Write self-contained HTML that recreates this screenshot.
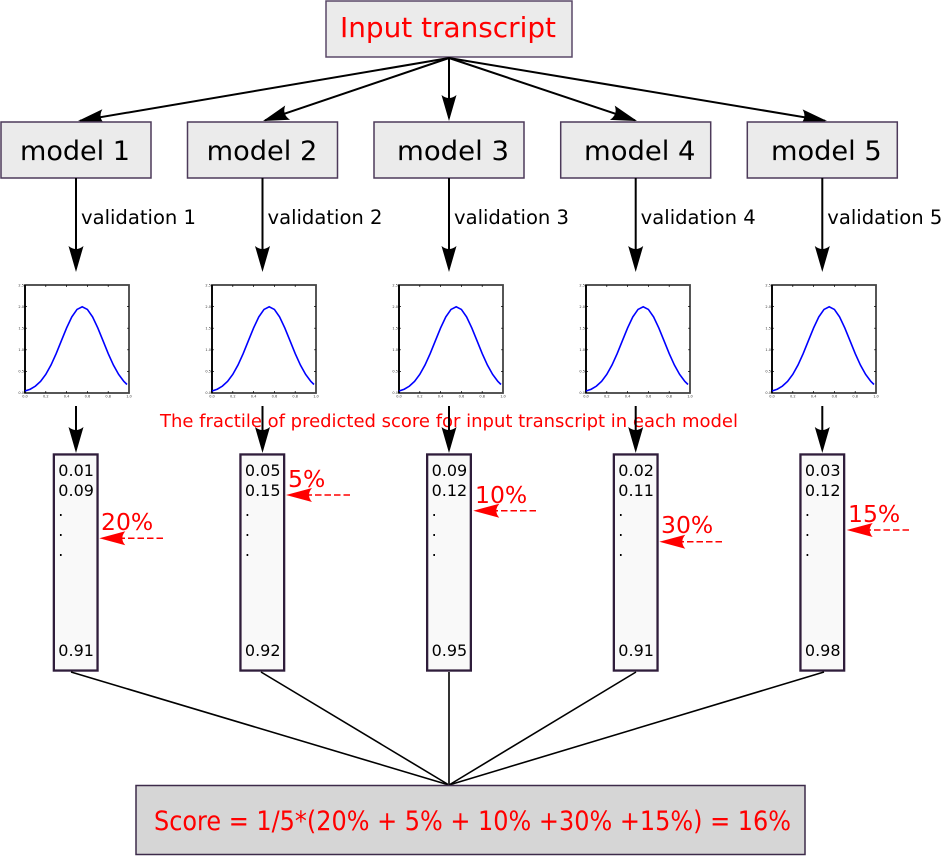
<!DOCTYPE html>
<html>
<head>
<meta charset="utf-8">
<style>
html,body{margin:0;padding:0;background:#ffffff;}
svg{display:block;}
</style>
</head>
<body>
<svg width="943" height="857" viewBox="0 0 943 857" xmlns="http://www.w3.org/2000/svg" font-family="'DejaVu Sans','Liberation Sans',sans-serif">
<rect x="0" y="0" width="943" height="857" fill="#ffffff"/>

<!-- Input transcript -->
<rect x="326" y="1" width="246" height="56" fill="#ebebeb" stroke="#5a4868" stroke-width="1.5"/>
<text x="340" y="37" font-size="28" fill="#ff0000" textLength="216" lengthAdjust="spacingAndGlyphs">Input transcript</text>

<!-- top connectors -->
<g stroke="#000" stroke-width="2" fill="none">
<line x1="449" y1="58" x2="80" y2="120.7"/>
<line x1="449" y1="58" x2="265" y2="120.3"/>
<line x1="449" y1="58" x2="449" y2="118"/>
<line x1="449" y1="58" x2="635" y2="120.3"/>
<line x1="449" y1="58" x2="825" y2="120.7"/>
</g>
<g fill="#000">
<path d="M0,0 L-26,-7.5 Q-20,0 -26,7.5 Z" transform="translate(78,121) rotate(170.36)"/>
<path d="M0,0 L-26,-7.5 Q-20,0 -26,7.5 Z" transform="translate(263,121) rotate(161.29)"/>
<path d="M0,0 L-26,-7.5 Q-20,0 -26,7.5 Z" transform="translate(449,121) rotate(90)"/>
<path d="M0,0 L-26,-7.5 Q-20,0 -26,7.5 Z" transform="translate(637,121) rotate(18.52)"/>
<path d="M0,0 L-26,-7.5 Q-20,0 -26,7.5 Z" transform="translate(827,121) rotate(9.46)"/>
</g>

<!-- model boxes -->
<g fill="#ebebeb" stroke="#4d3a5a" stroke-width="1.5">
<rect x="1" y="122" width="150" height="56"/>
<rect x="187.5" y="122" width="150" height="56"/>
<rect x="374" y="122" width="150" height="56"/>
<rect x="560.7" y="122" width="150" height="56"/>
<rect x="747.3" y="122" width="150" height="56"/>
</g>
<g font-size="26.5" fill="#000">
<text x="20" y="160" textLength="110" lengthAdjust="spacingAndGlyphs">model 1</text>
<text x="206.7" y="160" textLength="110.6" lengthAdjust="spacingAndGlyphs">model 2</text>
<text x="397" y="160" textLength="112" lengthAdjust="spacingAndGlyphs">model 3</text>
<text x="584" y="160" textLength="111.5" lengthAdjust="spacingAndGlyphs">model 4</text>
<text x="771" y="160" textLength="110.7" lengthAdjust="spacingAndGlyphs">model 5</text>
</g>

<!-- validation arrows -->
<g stroke="#000" stroke-width="2">
<line x1="76" y1="178" x2="76" y2="262"/>
<line x1="262.5" y1="178" x2="262.5" y2="262"/>
<line x1="449" y1="178" x2="449" y2="262"/>
<line x1="635.7" y1="178" x2="635.7" y2="262"/>
<line x1="822.3" y1="178" x2="822.3" y2="262"/>
</g>
<g fill="#000">
<path d="M0,0 L-26,-7.5 Q-20,0 -26,7.5 Z" transform="translate(76,272) rotate(90)"/>
<path d="M0,0 L-26,-7.5 Q-20,0 -26,7.5 Z" transform="translate(262.5,272) rotate(90)"/>
<path d="M0,0 L-26,-7.5 Q-20,0 -26,7.5 Z" transform="translate(449,272) rotate(90)"/>
<path d="M0,0 L-26,-7.5 Q-20,0 -26,7.5 Z" transform="translate(635.7,272) rotate(90)"/>
<path d="M0,0 L-26,-7.5 Q-20,0 -26,7.5 Z" transform="translate(822.3,272) rotate(90)"/>
</g>
<g font-size="19.5" fill="#000">
<text x="81" y="224" textLength="115" lengthAdjust="spacingAndGlyphs">validation 1</text>
<text x="267.5" y="224" textLength="115" lengthAdjust="spacingAndGlyphs">validation 2</text>
<text x="454" y="224" textLength="115" lengthAdjust="spacingAndGlyphs">validation 3</text>
<text x="640.7" y="224" textLength="115" lengthAdjust="spacingAndGlyphs">validation 4</text>
<text x="827.3" y="224" textLength="115" lengthAdjust="spacingAndGlyphs">validation 5</text>
</g>

<!-- plots -->
<g transform="translate(25,285)">
<rect x="0" y="0" width="104" height="108" fill="#fff" stroke="#444" stroke-width="1.8"/>
<line x1="0" y1="0" x2="0" y2="108" stroke="#000" stroke-width="1.8"/>
<g stroke="#000" stroke-width="0.7">
<path d="M20.8,108v-2M41.6,108v-2M62.4,108v-2M83.2,108v-2M20.8,0v2M41.6,0v2M62.4,0v2M83.2,0v2M0,86.4h2M0,64.8h2M0,43.2h2M0,21.6h2M104,86.4h-2M104,64.8h-2M104,43.2h-2M104,21.6h-2"/>
</g>
<polyline fill="none" stroke="#0000ff" stroke-width="1.6" points="0,106.03 5.2,104.21 10.4,101.14 15.6,96.34 20.8,89.36 26,80.02 31.2,68.55 36.4,55.73 41.6,42.95 46.8,31.94 52,24.47 57.2,21.82 62.4,24.47 67.6,31.94 72.8,42.95 78,55.73 83.2,68.55 88.4,80.02 93.6,89.36 98.8,96.34 102,99.5"/>
<g font-size="3.5" fill="#333" text-anchor="end">
<text x="-1" y="109">0.0</text><text x="-1" y="87.6">0.5</text><text x="-1" y="66">1.0</text><text x="-1" y="44.4">1.5</text><text x="-1" y="22.8">2.0</text><text x="-1" y="1.5">2.5</text>
</g>
<g font-size="3.5" fill="#333" text-anchor="middle">
<text x="0" y="112.5">0.0</text><text x="20.8" y="112.5">0.2</text><text x="41.6" y="112.5">0.4</text><text x="62.4" y="112.5">0.6</text><text x="83.2" y="112.5">0.8</text><text x="104" y="112.5">1.0</text>
</g>
</g>

<g transform="translate(212,285)">
<rect x="0" y="0" width="104" height="108" fill="#fff" stroke="#444" stroke-width="1.8"/>
<line x1="0" y1="0" x2="0" y2="108" stroke="#000" stroke-width="1.8"/>
<g stroke="#000" stroke-width="0.7">
<path d="M20.8,108v-2M41.6,108v-2M62.4,108v-2M83.2,108v-2M20.8,0v2M41.6,0v2M62.4,0v2M83.2,0v2M0,86.4h2M0,64.8h2M0,43.2h2M0,21.6h2M104,86.4h-2M104,64.8h-2M104,43.2h-2M104,21.6h-2"/>
</g>
<polyline fill="none" stroke="#0000ff" stroke-width="1.6" points="0,106.03 5.2,104.21 10.4,101.14 15.6,96.34 20.8,89.36 26,80.02 31.2,68.55 36.4,55.73 41.6,42.95 46.8,31.94 52,24.47 57.2,21.82 62.4,24.47 67.6,31.94 72.8,42.95 78,55.73 83.2,68.55 88.4,80.02 93.6,89.36 98.8,96.34 102,99.5"/>
<g font-size="3.5" fill="#333" text-anchor="end">
<text x="-1" y="109">0.0</text><text x="-1" y="87.6">0.5</text><text x="-1" y="66">1.0</text><text x="-1" y="44.4">1.5</text><text x="-1" y="22.8">2.0</text><text x="-1" y="1.5">2.5</text>
</g>
<g font-size="3.5" fill="#333" text-anchor="middle">
<text x="0" y="112.5">0.0</text><text x="20.8" y="112.5">0.2</text><text x="41.6" y="112.5">0.4</text><text x="62.4" y="112.5">0.6</text><text x="83.2" y="112.5">0.8</text><text x="104" y="112.5">1.0</text>
</g>
</g>

<g transform="translate(399,285)">
<rect x="0" y="0" width="104" height="108" fill="#fff" stroke="#444" stroke-width="1.8"/>
<line x1="0" y1="0" x2="0" y2="108" stroke="#000" stroke-width="1.8"/>
<g stroke="#000" stroke-width="0.7">
<path d="M20.8,108v-2M41.6,108v-2M62.4,108v-2M83.2,108v-2M20.8,0v2M41.6,0v2M62.4,0v2M83.2,0v2M0,86.4h2M0,64.8h2M0,43.2h2M0,21.6h2M104,86.4h-2M104,64.8h-2M104,43.2h-2M104,21.6h-2"/>
</g>
<polyline fill="none" stroke="#0000ff" stroke-width="1.6" points="0,106.03 5.2,104.21 10.4,101.14 15.6,96.34 20.8,89.36 26,80.02 31.2,68.55 36.4,55.73 41.6,42.95 46.8,31.94 52,24.47 57.2,21.82 62.4,24.47 67.6,31.94 72.8,42.95 78,55.73 83.2,68.55 88.4,80.02 93.6,89.36 98.8,96.34 102,99.5"/>
<g font-size="3.5" fill="#333" text-anchor="end">
<text x="-1" y="109">0.0</text><text x="-1" y="87.6">0.5</text><text x="-1" y="66">1.0</text><text x="-1" y="44.4">1.5</text><text x="-1" y="22.8">2.0</text><text x="-1" y="1.5">2.5</text>
</g>
<g font-size="3.5" fill="#333" text-anchor="middle">
<text x="0" y="112.5">0.0</text><text x="20.8" y="112.5">0.2</text><text x="41.6" y="112.5">0.4</text><text x="62.4" y="112.5">0.6</text><text x="83.2" y="112.5">0.8</text><text x="104" y="112.5">1.0</text>
</g>
</g>

<g transform="translate(586,285)">
<rect x="0" y="0" width="104" height="108" fill="#fff" stroke="#444" stroke-width="1.8"/>
<line x1="0" y1="0" x2="0" y2="108" stroke="#000" stroke-width="1.8"/>
<g stroke="#000" stroke-width="0.7">
<path d="M20.8,108v-2M41.6,108v-2M62.4,108v-2M83.2,108v-2M20.8,0v2M41.6,0v2M62.4,0v2M83.2,0v2M0,86.4h2M0,64.8h2M0,43.2h2M0,21.6h2M104,86.4h-2M104,64.8h-2M104,43.2h-2M104,21.6h-2"/>
</g>
<polyline fill="none" stroke="#0000ff" stroke-width="1.6" points="0,106.03 5.2,104.21 10.4,101.14 15.6,96.34 20.8,89.36 26,80.02 31.2,68.55 36.4,55.73 41.6,42.95 46.8,31.94 52,24.47 57.2,21.82 62.4,24.47 67.6,31.94 72.8,42.95 78,55.73 83.2,68.55 88.4,80.02 93.6,89.36 98.8,96.34 102,99.5"/>
<g font-size="3.5" fill="#333" text-anchor="end">
<text x="-1" y="109">0.0</text><text x="-1" y="87.6">0.5</text><text x="-1" y="66">1.0</text><text x="-1" y="44.4">1.5</text><text x="-1" y="22.8">2.0</text><text x="-1" y="1.5">2.5</text>
</g>
<g font-size="3.5" fill="#333" text-anchor="middle">
<text x="0" y="112.5">0.0</text><text x="20.8" y="112.5">0.2</text><text x="41.6" y="112.5">0.4</text><text x="62.4" y="112.5">0.6</text><text x="83.2" y="112.5">0.8</text><text x="104" y="112.5">1.0</text>
</g>
</g>

<g transform="translate(772,285)">
<rect x="0" y="0" width="104" height="108" fill="#fff" stroke="#444" stroke-width="1.8"/>
<line x1="0" y1="0" x2="0" y2="108" stroke="#000" stroke-width="1.8"/>
<g stroke="#000" stroke-width="0.7">
<path d="M20.8,108v-2M41.6,108v-2M62.4,108v-2M83.2,108v-2M20.8,0v2M41.6,0v2M62.4,0v2M83.2,0v2M0,86.4h2M0,64.8h2M0,43.2h2M0,21.6h2M104,86.4h-2M104,64.8h-2M104,43.2h-2M104,21.6h-2"/>
</g>
<polyline fill="none" stroke="#0000ff" stroke-width="1.6" points="0,106.03 5.2,104.21 10.4,101.14 15.6,96.34 20.8,89.36 26,80.02 31.2,68.55 36.4,55.73 41.6,42.95 46.8,31.94 52,24.47 57.2,21.82 62.4,24.47 67.6,31.94 72.8,42.95 78,55.73 83.2,68.55 88.4,80.02 93.6,89.36 98.8,96.34 102,99.5"/>
<g font-size="3.5" fill="#333" text-anchor="end">
<text x="-1" y="109">0.0</text><text x="-1" y="87.6">0.5</text><text x="-1" y="66">1.0</text><text x="-1" y="44.4">1.5</text><text x="-1" y="22.8">2.0</text><text x="-1" y="1.5">2.5</text>
</g>
<g font-size="3.5" fill="#333" text-anchor="middle">
<text x="0" y="112.5">0.0</text><text x="20.8" y="112.5">0.2</text><text x="41.6" y="112.5">0.4</text><text x="62.4" y="112.5">0.6</text><text x="83.2" y="112.5">0.8</text><text x="104" y="112.5">1.0</text>
</g>
</g>

<!-- fractile text -->
<text x="160" y="427" font-size="17.8" fill="#ff0000" textLength="578" lengthAdjust="spacingAndGlyphs">The fractile of predicted score for input transcript in each model</text>

<!-- plot to box arrows -->
<g stroke="#000" stroke-width="2">
<line x1="76" y1="406" x2="76" y2="443"/>
<line x1="262.5" y1="406" x2="262.5" y2="443"/>
<line x1="449" y1="406" x2="449" y2="443"/>
<line x1="635.7" y1="406" x2="635.7" y2="443"/>
<line x1="822.3" y1="406" x2="822.3" y2="443"/>
</g>
<g fill="#000">
<path d="M0,0 L-26,-7.5 Q-20,0 -26,7.5 Z" transform="translate(76,453) rotate(90)"/>
<path d="M0,0 L-26,-7.5 Q-20,0 -26,7.5 Z" transform="translate(262.5,453) rotate(90)"/>
<path d="M0,0 L-26,-7.5 Q-20,0 -26,7.5 Z" transform="translate(449,453) rotate(90)"/>
<path d="M0,0 L-26,-7.5 Q-20,0 -26,7.5 Z" transform="translate(635.7,453) rotate(90)"/>
<path d="M0,0 L-26,-7.5 Q-20,0 -26,7.5 Z" transform="translate(822.3,453) rotate(90)"/>
</g>

<!-- value boxes -->
<g fill="#f9f9f9" stroke="#2f1d3b" stroke-width="2.3">
<rect x="53.85" y="454.45" width="43.7" height="216.1"/>
<rect x="240.45" y="454.45" width="43.7" height="216.1"/>
<rect x="427.15" y="454.45" width="43.7" height="216.1"/>
<rect x="613.85" y="454.45" width="43.7" height="216.1"/>
<rect x="800.45" y="454.45" width="43.7" height="216.1"/>
</g>
<g font-size="16" fill="#000">
<text x="58.3" y="476">0.01</text><text x="58.3" y="496">0.09</text><text x="58.3" y="516">.</text><text x="58.3" y="536">.</text><text x="58.3" y="556">.</text><text x="58.3" y="656">0.91</text>
<text x="244.9" y="476">0.05</text><text x="244.9" y="496">0.15</text><text x="244.9" y="516">.</text><text x="244.9" y="536">.</text><text x="244.9" y="556">.</text><text x="244.9" y="656">0.92</text>
<text x="431.6" y="476">0.09</text><text x="431.6" y="496">0.12</text><text x="431.6" y="516">.</text><text x="431.6" y="536">.</text><text x="431.6" y="556">.</text><text x="431.6" y="656">0.95</text>
<text x="618.3" y="476">0.02</text><text x="618.3" y="496">0.11</text><text x="618.3" y="516">.</text><text x="618.3" y="536">.</text><text x="618.3" y="556">.</text><text x="618.3" y="656">0.91</text>
<text x="804.9" y="476">0.03</text><text x="804.9" y="496">0.12</text><text x="804.9" y="516">.</text><text x="804.9" y="536">.</text><text x="804.9" y="556">.</text><text x="804.9" y="656">0.98</text>
</g>

<!-- red arrows -->
<g stroke="#ff0000" stroke-width="1.5" stroke-dasharray="6.5,3" fill="none">
<line x1="163" y1="538.3" x2="120" y2="538.3"/>
<line x1="350" y1="495" x2="307" y2="495"/>
<line x1="536" y1="510.7" x2="494" y2="510.7"/>
<line x1="722" y1="541.7" x2="680" y2="541.7"/>
<line x1="909" y1="530" x2="867" y2="530"/>
</g>
<g fill="#ff0000">
<path d="M0,0 L-26,-7 Q-20,0 -26,7 Z" transform="translate(99.3,538.3) rotate(180)"/>
<path d="M0,0 L-26,-7 Q-20,0 -26,7 Z" transform="translate(286,495) rotate(180)"/>
<path d="M0,0 L-26,-7 Q-20,0 -26,7 Z" transform="translate(473.3,510.7) rotate(180)"/>
<path d="M0,0 L-26,-7 Q-20,0 -26,7 Z" transform="translate(659.3,541.7) rotate(180)"/>
<path d="M0,0 L-26,-7 Q-20,0 -26,7 Z" transform="translate(846.7,530) rotate(180)"/>
</g>
<g font-size="23.5" fill="#ff0000">
<text x="101" y="530">20%</text>
<text x="288" y="487">5%</text>
<text x="475" y="503">10%</text>
<text x="661" y="533">30%</text>
<text x="848" y="522">15%</text>
</g>

<!-- lines to score -->
<g stroke="#000" stroke-width="1.6">
<line x1="71" y1="672" x2="449" y2="785"/>
<line x1="261" y1="672" x2="449" y2="785"/>
<line x1="449" y1="672" x2="449" y2="785" stroke="#333" stroke-width="2"/>
<line x1="636" y1="672" x2="449" y2="785"/>
<line x1="824" y1="672" x2="449" y2="785"/>
</g>

<!-- score box -->
<rect x="136" y="785.5" width="669" height="69" fill="#d6d6d6" stroke="#3d2b4a" stroke-width="1.5"/>
<text x="154" y="830" font-size="26.5" fill="#ff0000" textLength="637" lengthAdjust="spacingAndGlyphs">Score = 1/5*(20% + 5% + 10% +30% +15%) = 16%</text>
</svg>
</body>
</html>
